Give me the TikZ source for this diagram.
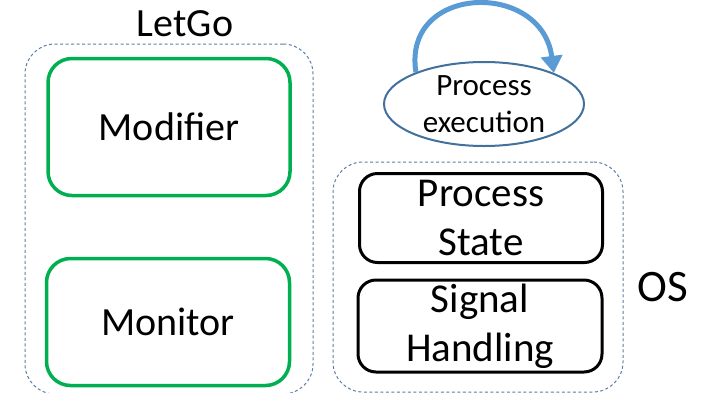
\documentclass[tikz,border=0pt]{standalone}
\usepackage{fontspec}
\setmainfont{Carlito}
\usetikzlibrary{arrows.meta,shapes.geometric}
\definecolor{grpline}{HTML}{5A7EA6}
\definecolor{letgogreen}{HTML}{00B050}
\definecolor{loopblue}{HTML}{5B9BD5}
\definecolor{ellblue}{HTML}{41719C}
\tikzset{
  group/.style={draw=grpline, dashed, dash pattern=on 3pt off 2.5pt, line width=1pt,
    rounded corners=30pt, inner sep=0pt},
  greenbox/.style={draw=letgogreen, line width=3.5pt, rounded corners=24pt,
    font=\fontsize{40}{46}\selectfont, inner sep=0pt},
  blackbox/.style={draw=black, line width=3pt, rounded corners=18pt,
    font=\fontsize{41}{49}\selectfont, align=center, inner sep=0pt},
  tag/.style={font=\fontsize{40}{46}\selectfont, inner sep=0pt},
}
\begin{document}
\begin{tikzpicture}[x=1pt,y=-1pt]
\fill[white] (0,0) rectangle (710,392);

% LetGo group
\node[group, minimum width=288pt, minimum height=350pt] (letgo) at (169,219) {};
\node[tag] (letgolbl) at (185,24) {LetGo};
\node[greenbox, minimum width=242pt, minimum height=137pt] (modifier) at (169,127) {Modifier};
\node[greenbox, minimum width=243pt, minimum height=127pt] (monitor) at (168,322) {Monitor};

% OS group
\node[group, minimum width=290pt, minimum height=230pt] (os) at (478,277) {};
\node[tag, font=\fontsize{45}{50}\selectfont] (oslbl) at (663,287) {OS};
\node[blackbox, minimum width=243pt, minimum height=89pt] (pstate) at (481,218)
  {Process\\State};
\node[blackbox, minimum width=244pt, minimum height=92pt] (signal) at (480,326)
  {Signal\\Handling};

% Process execution with its loop
\node[ellipse, draw=ellblue, line width=2pt, minimum width=200pt, minimum height=84pt,
  inner sep=0pt, align=center, font=\fontsize{31}{37}\selectfont]
  (pexec) at (484,104) {Process\\execution};
\draw[loopblue, line width=5pt, -{Triangle[length=17pt,width=21pt]}]
  (pexec.155) .. controls (402,-16) and (542,-20) .. (pexec.24);

\pgfresetboundingbox
\useasboundingbox (0,0) rectangle (710,392);
\end{tikzpicture}
\end{document}
